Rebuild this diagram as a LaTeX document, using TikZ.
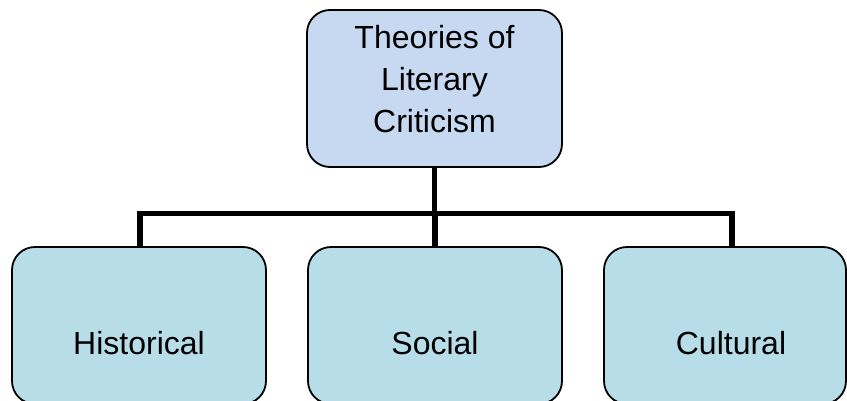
\documentclass[tikz,border=0pt]{standalone}
\usepackage{fontspec}
\setmainfont{Liberation Sans}
\definecolor{rootfill}{RGB}{198,217,241}
\definecolor{leaffill}{RGB}{183,222,232}
\begin{document}
\begin{tikzpicture}[x=1pt,y=-1pt,
  box/.style={draw=black, line width=1.8pt, rounded corners=23pt,
    minimum height=157pt, inner sep=0pt, outer sep=0pt},
  rootbox/.style={box, fill=rootfill, minimum width=255pt},
  leafbox/.style={box, fill=leaffill},
  label/.style={font=\fontsize{32}{42}\selectfont, inner sep=0pt, align=center},
  conn/.style={line width=5.3pt, line join=miter}]
\useasboundingbox (0,0) rectangle (847,401);

% boxes
\node[rootbox] (root) at (434.5,88.5) {};
\node[leafbox, minimum width=254pt] (hist) at (139,325.5) {};
\node[leafbox, minimum width=254pt] (social) at (435,325.5) {};
\node[leafbox, minimum width=242pt] (cultural) at (725,325.5) {};

% texts
\node[label] (roottext) at (434.5,79) {Theories of\\Literary\\Criticism};
\node[label, anchor=base] (histtext) at (139,354) {Historical};
\node[label, anchor=base] (socialtext) at (435,354) {Social};
\node[label, anchor=base] (culturaltext) at (731,354) {Cultural};

% connectors
\coordinate (bar) at (0,213.3);
\coordinate (cstub) at (732,247);
\draw[conn] (root.south) -- (root.south |- bar);
\draw[conn] (hist.north -| 140,0) -- (140,213.3) -- (cstub |- bar) -- (cstub);
\draw[conn] (social.north) -- (social.north |- bar);
\end{tikzpicture}
\end{document}
